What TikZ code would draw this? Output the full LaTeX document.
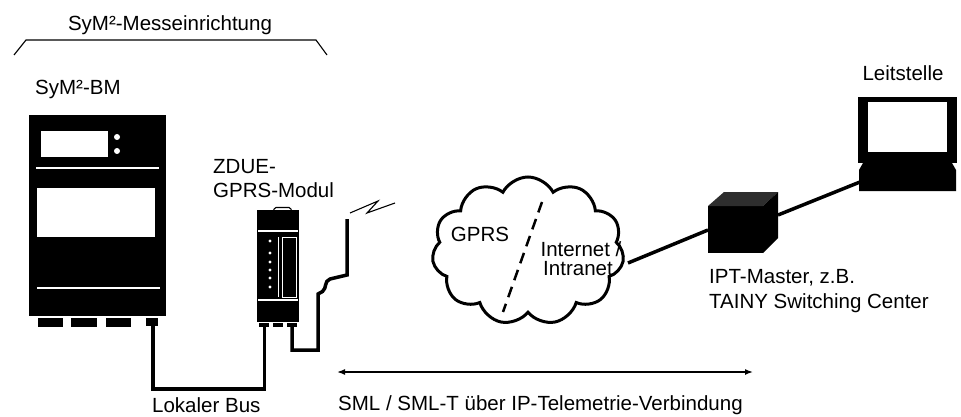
\documentclass[tikz,border=0pt]{standalone}
\usepackage{fontspec}
\setmainfont{Liberation Sans}
\usetikzlibrary{shapes.symbols,arrows.meta,calc}

\begin{document}
\begin{tikzpicture}[x=1pt,y=-1pt,
  lbl/.style={font=\fontsize{20.5}{24}\selectfont, inner sep=0pt},
  cable/.style={line width=3.5pt},
  trim/.style={white, line width=1.5pt},
  led/.style={white},
  thin/.style={line width=1.1pt},
]
\useasboundingbox (0,0) rectangle (961,417);

% --- bracket over the metering unit ---
\draw[thin] (14,55) -- (26,40) -- (316,40) -- (327,55);
\node[lbl, anchor=base] (title) at (170,31) {SyM²-Messeinrichtung};

% --- SyM2 base meter ---
\node[lbl, anchor=base west] (bmlabel) at (35,95) {SyM²-BM};
\fill (29,115) rectangle (166,316);
\fill[white] (41,131) rectangle (108,157);
\fill[led] (117,137) circle (3);
\fill[led] (117,151) circle (3);
\draw[trim] (36,168) -- (159,168);
\fill[white] (37,188) rectangle (155,237);
\draw[trim] (37,288) -- (160,288);
\fill (38,318) rectangle (63,327);
\fill (71,318) rectangle (97,327);
\fill (106,318) rectangle (131,327);
\fill (146,318) rectangle (158,326);
\coordinate (bmport) at (153,326);

% --- ZDUE GPRS module ---
\node[lbl, anchor=base west] (zlabel1) at (213,173) {ZDUE-};
\node[lbl, anchor=base west] (zlabel2) at (213,197) {GPRS-Modul};
\draw[thin, rounded corners=1.5pt] (273.5,211) -- (274.5,207.5) -- (290.5,207.5) -- (291.5,211);
\fill (257,210) rectangle (299,322);
\draw[trim] (258,231) -- (298,231);
\draw[trim] (258,300) -- (298,300);
\draw[white, line width=1pt] (278.5,237) -- (278.5,297);
\draw[white, line width=1pt] (282,237) rectangle (296.5,297);
\foreach \yy in {241,253,262,270,278,287}
  \fill[led] (270,\yy) circle (1.6);
\fill (259,323) rectangle (269,327);
\fill (273,323) rectangle (283,327);
\fill (287,323) rectangle (297,327);
\coordinate (zport1) at (264.5,327);
\coordinate (zport3) at (292,327);

% --- local bus between meter and module ---
\coordinate (busbend) at (153,389);
\draw[cable, line join=miter] (bmport) -- (busbend) -| (zport1);
\node[lbl, anchor=base west] (buslabel) at (152,412.5) {Lokaler Bus};

% --- antenna lead with radio symbol ---
\coordinate (anttip) at (347,219);
\draw[cable, line join=miter] (zport3) -- (292,350) -- (318,350) -- (318,294)
  -- (322.5,291.5) .. controls (327,288) and (324,281) .. (330,279)
  -- (347,275) -- (anttip);
\draw[thin] (350,213) -- (378,201) -- (367,213) -- (395,203);

% --- network cloud ---
\node[cloud, draw, line width=3pt, cloud puffs=11, cloud puff arc=125,
      aspect=1.3, minimum width=192, minimum height=148, inner sep=0pt]
      (net) at (528,251) {};
\draw[line width=2.5pt, dash pattern=on 11pt off 7pt] (542,202) -- (503,312);
\node[lbl, anchor=base] (gprs) at (480,241) {GPRS};
\node[lbl, anchor=base] (inet1) at (581,256) {Internet /};
\node[lbl, anchor=base] (inet2) at (578,275) {Intranet};
\coordinate (netout) at (628,263);

% --- IPT master box ---
\coordinate (boxin) at (708,230);
\coordinate (boxout) at (778,215);
\fill (708,206) rectangle (763,253);
\fill[black!82] (708,206) -- (724,192) -- (778,192) -- (763,206) -- cycle;
\fill (763,206) -- (778,192) -- (778,238) -- (763,253) -- cycle;
\node[lbl, anchor=base west] (ipt1) at (709,283) {IPT-Master, z.B.};
\node[lbl, anchor=base west] (ipt2) at (709,308) {TAINY Switching Center};

% --- control centre terminal ---
\node[lbl, anchor=base] (lst) at (903,81) {Leitstelle};
\fill (858,97) rectangle (957,163);
\fill[white] (868,102) rectangle (947,152);
\fill (863,163) -- (859,170) -- (859,191) -- (956,191) -- (956,170) -- (952,163) -- cycle;
\coordinate (termin) at (860,182);

% --- network links ---
\draw[cable] (netout) -- (boxin);
\draw[cable] (boxout) -- (termin);

% --- end-to-end protocol span ---
\coordinate (spanA) at (337,372);
\coordinate (spanB) at (753,372);
\draw[line width=1.5pt, {Latex[length=8pt,width=6pt]}-{Latex[length=8pt,width=6pt]}] (spanA) -- (spanB);
\node[lbl, anchor=base west] (proto) at (338,410) {SML / SML-T über IP-Telemetrie-Verbindung};
\end{tikzpicture}
\end{document}
